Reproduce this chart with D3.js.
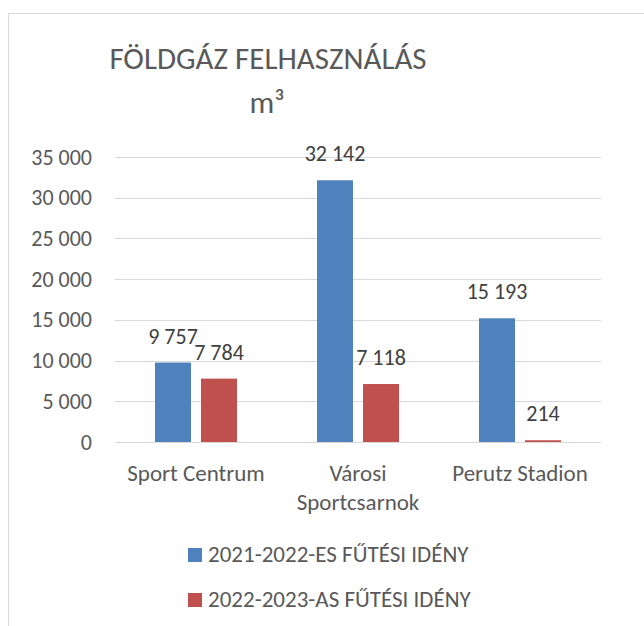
<!DOCTYPE html>
<html>
<head>
<meta charset="utf-8">
<script src="https://cdn.jsdelivr.net/npm/d3@7"></script>
<style>
  body { margin: 0; background: #fff; }
  text { font-family: Calibri, Carlito, Lato, sans-serif; fill: #595959; }
</style>
</head>
<body>
<svg width="644" height="626"></svg>
<script>
const categories = ['Sport Centrum', 'Városi Sportcsarnok', 'Perutz Stadion']
const seriesNames = ['2021-2022-ES FŰTÉSI IDÉNY', '2022-2023-AS FŰTÉSI IDÉNY']
const season2122 = [9757, 32142, 15193]
const season2223 = [7784, 7118, 214]
const yTicks = [0, 5000, 10000, 15000, 20000, 25000, 30000, 35000]
const colors = ['#4F81BD', '#C0504D']

const svg = d3.select('svg')
const margin = { top: 157, left: 115, right: 43, bottom: 184 }
const width = 644 - margin.left - margin.right
const height = 626 - margin.top - margin.bottom

const huLocale = d3.formatLocale({ decimal: ',', thousands: ' ', grouping: [3], currency: ['', ' Ft'] })
const fmt = huLocale.format(',d')

// chart frame (cut off at the right and bottom like the original)
svg.append('rect')
  .attr('x', 8.5).attr('y', 13.5)
  .attr('width', 700).attr('height', 700)
  .attr('fill', 'none').attr('stroke', '#D9D9D9')

svg.append('text')
  .attr('x', 268).attr('y', 69)
  .attr('text-anchor', 'middle')
  .style('font-size', '31px')
  .text('FÖLDGÁZ FELHASZNÁLÁS')

svg.append('text')
  .attr('x', 267).attr('y', 113)
  .attr('text-anchor', 'middle')
  .style('font-size', '31px')
  .text('m³')

const g = svg.append('g').attr('transform', 'translate(' + margin.left + ',' + margin.top + ')')

const x = d3.scaleBand().domain(categories).range([0, width])
const xInner = d3.scaleBand().domain(seriesNames).range([0, x.bandwidth()])
  .paddingInner(10 / 46).paddingOuter(0.87)
const y = d3.scaleLinear().domain([0, 35000]).range([height, 0])

const yAxis = g.append('g')
  .call(d3.axisLeft(y).tickValues(yTicks).tickFormat(fmt).tickSize(-width).tickPadding(23))
yAxis.select('.domain').remove()
yAxis.selectAll('line').attr('stroke', '#D9D9D9').attr('shape-rendering', 'crispEdges')
yAxis.selectAll('text')
  .style('font-size', '22px').style('font-family', 'Calibri, Carlito, Lato, sans-serif')
  .attr('fill', '#595959')

const data = categories.map(function (c, i) {
  return { cat: c, values: [season2122[i], season2223[i]] }
})

const groups = g.selectAll('.grp')
  .data(data)
  .enter()
  .append('g')
  .attr('transform', function (d) { return 'translate(' + x(d.cat) + ',0)' })

groups.selectAll('rect')
  .data(function (d) { return d.values.map(function (v, j) { return { name: seriesNames[j], v: v, j: j } }) })
  .enter()
  .append('rect')
  .attr('x', function (d) { return xInner(d.name) })
  .attr('y', function (d) { return y(d.v) })
  .attr('width', xInner.bandwidth())
  .attr('height', function (d) { return height - y(d.v) })
  .attr('fill', function (d) { return colors[d.j] })

groups.selectAll('.lbl')
  .data(function (d) { return d.values.map(function (v, j) { return { name: seriesNames[j], v: v } }) })
  .enter()
  .append('text')
  .attr('x', function (d) { return xInner(d.name) + xInner.bandwidth() / 2 })
  .attr('y', function (d) { return y(d.v) - 19 })
  .attr('text-anchor', 'middle')
  .style('font-size', '22px')
  .style('fill', '#404040')
  .text(function (d) { return fmt(d.v) })

// baseline redrawn over the bars
g.append('line')
  .attr('x1', 0).attr('x2', width)
  .attr('y1', height + 0.5).attr('y2', height + 0.5)
  .attr('stroke', '#D9D9D9')

// category labels, wrapped to the band width
const catLabels = g.selectAll('.cat')
  .data(categories)
  .enter()
  .append('text')
  .attr('text-anchor', 'middle')
  .attr('transform', function (d) { return 'translate(' + (x(d) + x.bandwidth() / 2) + ',' + (height + 39) + ')' })
  .style('font-size', '23px')

catLabels.each(function (d) {
  const el = d3.select(this)
  const words = d.split(' ')
  let line = []
  let lines = []
  words.forEach(function (w) {
    line.push(w)
    el.text(line.join(' '))
    if (this.getComputedTextLength() > x.bandwidth() - 10 && line.length > 1) {
      line.pop()
      lines.push(line.join(' '))
      line = [w]
    }
  }, this)
  lines.push(line.join(' '))
  el.text(null)
  lines.forEach(function (l, i) {
    el.append('tspan').attr('x', 0).attr('y', i * 29).text(l)
  })
})

// legend
const legend = svg.selectAll('.leg')
  .data(seriesNames)
  .enter()
  .append('g')
  .attr('transform', function (d, i) { return 'translate(188,' + (548 + i * 45) + ')' })

legend.append('rect')
  .attr('width', 14).attr('height', 14)
  .attr('fill', function (d, i) { return colors[i] })

legend.append('text')
  .attr('x', 20).attr('y', 14)
  .style('font-size', '23px')
  .text(function (d) { return d })
</script>
</body>
</html>
